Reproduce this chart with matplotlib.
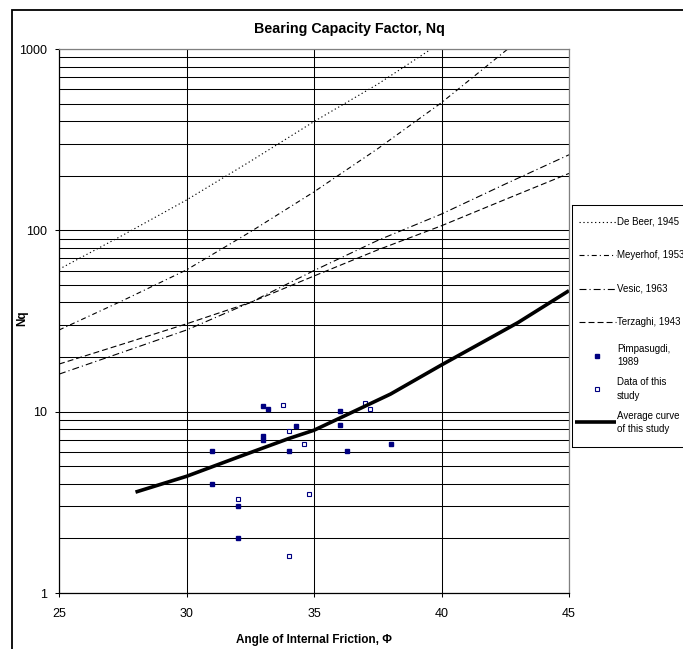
import numpy as np
import matplotlib.pyplot as plt
from matplotlib.ticker import FixedLocator, LogLocator, NullFormatter
from matplotlib.patches import Rectangle

plt.rcParams['font.family'] = ['Liberation Sans', 'DejaVu Sans']
plt.rcParams['lines.scale_dashes'] = False

# Data
phi_debeer = [25, 27.5, 30, 32.5, 35, 37.5, 39.6]
nq_debeer = [61, 94, 147, 240, 398, 640, 1000]

phi_meyer = [25, 27.5, 30, 32.5, 35, 37.5, 40, 42.6]
nq_meyer = [28.2, 41, 60.5, 98, 163, 282, 506, 1000]

phi_std = [25, 27.5, 30, 32.5, 35, 37.5, 40, 42.5, 45]
nq_vesic = [16.1, 21.3, 28.2, 40, 60, 88, 123, 180, 261]
nq_terz = [18.3, 23.6, 30.5, 40, 56, 78, 106, 148, 206]

phi_avg = [28, 30, 32, 34, 35, 36, 38, 40, 42, 43, 45]
nq_avg = [3.6, 4.4, 5.6, 7.1, 7.9, 9.2, 12.5, 18.1, 25.9, 31, 46.5]

phi_pimp = [33, 33.2, 34.3, 33, 33, 31, 34, 36, 36, 36.3, 38, 31, 32, 32]
nq_pimp = [10.7, 10.4, 8.3, 7.3, 7.0, 6.1, 6.1, 10.1, 8.4, 6.1, 6.6, 4.0, 3.0, 2.0]

phi_study = [33.8, 34, 34.6, 37, 37.2, 32, 34.8, 34]
nq_study = [10.9, 7.8, 6.6, 11.2, 10.3, 3.3, 3.5, 1.6]

# Line styles
navy = '#000080'
sty_debeer = dict(color='black', lw=0.8, dashes=(0.9, 1.9))
sty_meyer = dict(color='black', lw=0.8, dashes=(3.6, 2.2, 0.8, 2.2))
sty_vesic = dict(color='black', lw=0.8, dashes=(5.0, 2.2, 0.8, 2.2))
sty_terz = dict(color='black', lw=0.8, dashes=(4.3, 2.2))
sty_avg = dict(color='black', lw=2.6, solid_capstyle='butt')

W, H = 683, 649
fig = plt.figure(figsize=(W / 100, H / 100), dpi=100)
ax = fig.add_axes([59 / W, (H - 593) / H, 510 / W, 544 / H])

ax.plot(phi_debeer, nq_debeer, **sty_debeer)
ax.plot(phi_meyer, nq_meyer, **sty_meyer)
ax.plot(phi_std, nq_vesic, **sty_vesic)
ax.plot(phi_std, nq_terz, **sty_terz)
ax.plot(phi_pimp, nq_pimp, 's', ms=3.2, color=navy, mec=navy, ls='none')
ax.plot(phi_study, nq_study, 's', ms=3.2, mfc='white', mec=navy, mew=0.8, ls='none')
ax.plot(phi_avg, nq_avg, **sty_avg)

ax.set_yscale('log')
ax.set_xlim(25, 45)
ax.set_ylim(1, 1000)
ax.set_xticks([25, 30, 35, 40, 45])
ax.yaxis.set_major_locator(FixedLocator([1, 10, 100, 1000]))
ax.set_yticklabels(['1', '10', '100', '1000'])
ax.yaxis.set_minor_locator(LogLocator(base=10, subs=np.arange(2, 10)))
ax.yaxis.set_minor_formatter(NullFormatter())
ax.tick_params(axis='y', which='minor', length=0)
ax.tick_params(which='major', direction='out', length=3, width=0.75, labelsize=9)
ax.tick_params(axis='y', pad=5.5)
ax.tick_params(axis='x', pad=8)
ax.grid(True, which='both', axis='y', color='black', lw=0.75)
ax.grid(True, which='major', axis='x', color='black', lw=0.75)
for s in ['top', 'right']:
    ax.spines[s].set_color('#808080')
for s in ax.spines.values():
    s.set_linewidth(0.9)

# Titles
fig.text(349 / W, 1 - 29 / H, 'Bearing Capacity Factor, Nq', ha='center', va='center',
         fontsize=10.3, fontweight='bold')
fig.text(314 / W, 1 - 640 / H, 'Angle of Internal Friction, \u03a6', ha='center', va='center',
         fontsize=8.5, fontweight='bold')
fig.text(22 / W, 1 - 318 / H, 'Nq', ha='center', va='center', rotation=90,
         fontsize=8.5, fontweight='bold')

# Outer chart border
fig.add_artist(Rectangle((12 / W, -0.1), 1.2, 1.1 - 10 / H, transform=fig.transFigure,
                         fill=False, ec='black', lw=1.3))

# Legend (Excel style box on the right)
leg = fig.add_axes([572 / W, (H - 447) / H, 130 / W, 242 / H])
leg.set_xlim(572, 702)
leg.set_ylim(447, 205)
leg.set_xticks([])
leg.set_yticks([])
for s in leg.spines.values():
    s.set_color('black')
    s.set_linewidth(0.75)

entries = [
    ('De Beer, 1945', 'line', sty_debeer),
    ('Meyerhof, 1953', 'line', sty_meyer),
    ('Vesic, 1963', 'line', sty_vesic),
    ('Terzaghi, 1943', 'line', sty_terz),
    ('Pimpasugdi,\n1989', 'filled', None),
    ('Data of this\nstudy', 'open', None),
    ('Average curve\nof this study', 'line', sty_avg),
]
y0, dy = 222, 33.4
for i, (lab, kind, sty) in enumerate(entries):
    y = y0 + i * dy
    if kind == 'line':
        x_start = 575 if sty is sty_avg else 579
        leg.plot([x_start, 616], [y, y], **sty)
    elif kind == 'filled':
        leg.plot([597], [y], 's', ms=3.2, color=navy)
    else:
        leg.plot([597], [y], 's', ms=3.2, mfc='white', mec=navy, mew=0.8)
    leg.text(617, y, lab, ha='left', va='center', fontsize=7, linespacing=1.45)

fig.savefig('out.png', dpi=100)
